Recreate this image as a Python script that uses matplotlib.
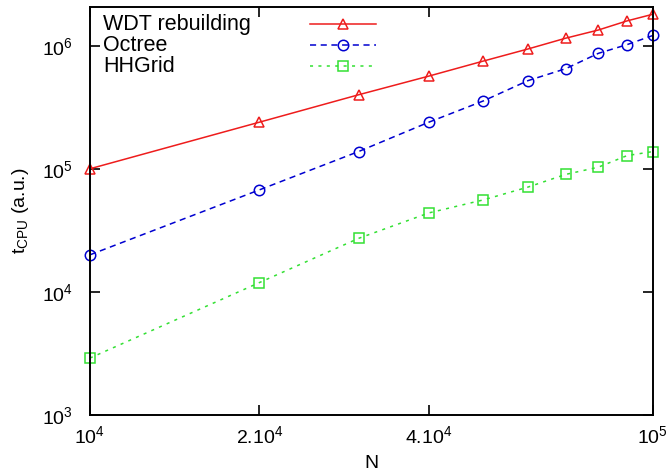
import matplotlib
matplotlib.use('Agg')
import matplotlib.pyplot as plt
from matplotlib.ticker import FixedLocator, FixedFormatter, NullLocator

plt.rcParams['font.family'] = ['Liberation Sans', 'DejaVu Sans']
plt.rcParams['mathtext.fontset'] = 'custom'
plt.rcParams['mathtext.rm'] = 'Liberation Sans'
plt.rcParams['mathtext.it'] = 'Liberation Sans'

# Data
N = [1e4, 2e4, 3e4, 4e4, 5e4, 6e4, 7e4, 8e4, 9e4, 1e5]
t_wdt = [1.0e5, 2.39e5, 3.99e5, 5.66e5, 7.5e5, 9.4e5, 1.15e6, 1.34e6, 1.59e6, 1.8e6]
t_octree = [2.0e4, 6.74e4, 1.38e5, 2.39e5, 3.56e5, 5.2e5, 6.5e5, 8.66e5, 1.02e6, 1.21e6]
t_hhgrid = [2.9e3, 1.19e4, 2.72e4, 4.38e4, 5.59e4, 7.1e4, 9.0e4, 1.03e5, 1.28e5, 1.38e5]

labels = ['WDT rebuilding', 'Octree', 'HHGrid']
x_ticks = [1e4, 2e4, 4e4, 1e5]
x_ticklabels = [r'$\mathregular{10^4}$', r'$\mathregular{2.10^4}$',
                r'$\mathregular{4.10^4}$', r'$\mathregular{10^5}$']
y_ticks = [1e3, 1e4, 1e5, 1e6]
y_ticklabels = [r'$\mathregular{10^3}$', r'$\mathregular{10^4}$',
                r'$\mathregular{10^5}$', r'$\mathregular{10^6}$']

styles = [
    dict(color='#ee1c1c', ls='-', marker='^', ms=7.5),
    dict(color='#0000d0', ls=(0, (4, 3)), marker='o', ms=7.5),
    dict(color='#33e033', ls=(0, (2, 3.5)), marker='s', ms=7),
]

fig = plt.figure(figsize=(6.71, 4.73), dpi=100)
ax = fig.add_axes([0.134, 0.1226, 0.839, 0.862])

for y, st in zip([t_wdt, t_octree, t_hhgrid], styles):
    ax.plot(N, y, color=st['color'], ls=st['ls'], lw=1.1, marker=st['marker'],
            ms=st['ms'], mfc='none', mec=st['color'], mew=1.1, clip_on=False)

ax.set_xscale('log')
ax.set_yscale('log')
ax.set_xlim(1e4, 1e5)
ax.set_ylim(1e3, 2.05e6)

ax.xaxis.set_major_locator(FixedLocator(x_ticks))
ax.xaxis.set_major_formatter(FixedFormatter(x_ticklabels))
ax.xaxis.set_minor_locator(NullLocator())
ax.yaxis.set_major_locator(FixedLocator(y_ticks))
ax.yaxis.set_major_formatter(FixedFormatter(y_ticklabels))
ax.yaxis.set_minor_locator(NullLocator())
ax.tick_params(which='major', direction='in', length=7, width=1.2,
               top=True, right=True, labelsize=14)
ax.tick_params(axis='y', pad=12)
ax.tick_params(axis='x', pad=7)
for sp in ax.spines.values():
    sp.set_linewidth(1.4)

ax.set_xlabel('N', fontsize=14, labelpad=6)
ax.set_ylabel(r'$\mathregular{t_{CPU}}$ (a.u.)', fontsize=14, labelpad=8)

# gnuplot-style key: text left, sample line on the right
key_y = [0.958, 0.907, 0.855]
for lab, st, yk in zip(labels, styles, key_y):
    ax.text(0.024, yk, lab, transform=ax.transAxes, fontsize=15.5, va='center', ha='left')
    ax.plot([0.391, 0.509], [yk, yk], transform=ax.transAxes, color=st['color'],
            ls=st['ls'], lw=1.1)
    ax.plot([0.45], [yk], transform=ax.transAxes, color=st['color'], ls='none',
            marker=st['marker'], ms=st['ms'], mfc='none', mew=1.1)

fig.savefig('out.png', dpi=100)
